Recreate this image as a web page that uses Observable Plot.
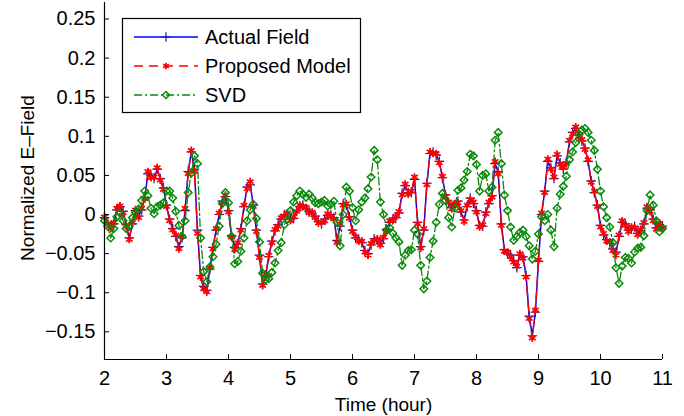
<!DOCTYPE html>
<html>
<head>
<meta charset="utf-8">
<script src="https://cdn.jsdelivr.net/npm/d3@7"></script>
<script src="https://cdn.jsdelivr.net/npm/@observablehq/plot@0.6"></script>
<style>
  html, body { margin: 0; padding: 0; background: #fff; }
  #chart svg { display: block; }
</style>
</head>
<body>
<div id="chart"></div>
<script>
// Sampling of the three series: one value every 0.05 h from 2 h to 11 h.
const tStart = 2;
const tStep = 0.05;

const actualField = [
  -0.004,-0.010,-0.016,-0.012,0.006,0.010,0.004,-0.013,-0.030,-0.012,
  0.005,-0.002,0.006,0.022,0.052,0.050,0.046,0.058,0.046,0.034,
  0.012,-0.006,-0.018,-0.028,-0.041,-0.030,0.005,0.055,0.080,0.058,
  -0.020,-0.078,-0.092,-0.097,-0.070,-0.042,-0.020,0.000,0.017,0.023,
  0.005,-0.027,-0.042,-0.038,-0.018,0.010,0.035,0.038,0.012,-0.020,
  -0.052,-0.089,-0.079,-0.054,-0.034,-0.021,-0.013,-0.006,0.000,0.000,
  -0.006,-0.005,0.005,0.010,0.012,0.007,0.004,0.001,-0.002,-0.009,
  -0.012,-0.006,-0.001,0.000,-0.004,-0.033,-0.015,0.014,0.012,-0.003,
  -0.020,-0.030,-0.032,-0.036,-0.046,-0.050,-0.039,-0.031,-0.033,-0.037,
  -0.031,-0.019,-0.010,-0.006,-0.004,0.002,0.027,0.037,0.028,0.028,
  0.045,-0.010,-0.041,-0.020,0.040,0.078,0.080,0.076,0.068,0.047,
  0.025,0.014,0.009,0.012,0.017,0.003,-0.007,0.010,0.021,0.014,
  0.005,-0.014,-0.015,0.003,0.014,0.024,0.065,0.055,-0.012,-0.045,
  -0.050,-0.052,-0.059,-0.068,-0.052,-0.054,-0.078,-0.130,-0.155,-0.125,
  -0.060,0.000,0.030,0.068,0.060,0.046,0.075,0.066,0.058,0.067,
  0.093,0.105,0.110,0.102,0.094,0.085,0.068,0.043,0.028,0.012,
  -0.014,-0.026,-0.032,-0.037,-0.044,-0.048,-0.028,-0.010,-0.012,-0.020,
  -0.018,-0.015,-0.024,-0.021,-0.012,0.008,0.006,-0.006,-0.017,-0.013,
  -0.015
];

const proposedModel = [
  -0.003,-0.012,-0.018,-0.010,0.008,0.011,0.002,-0.015,-0.032,-0.010,
  0.006,-0.004,0.008,0.020,0.055,0.047,0.048,0.060,0.044,0.032,
  0.010,-0.008,-0.020,-0.026,-0.044,-0.028,0.008,0.052,0.082,0.055,
  -0.024,-0.080,-0.095,-0.099,-0.068,-0.044,-0.018,0.002,0.015,0.025,
  0.003,-0.029,-0.045,-0.036,-0.020,0.012,0.033,0.042,0.010,-0.022,
  -0.055,-0.091,-0.076,-0.052,-0.036,-0.019,-0.015,-0.004,-0.002,0.002,
  -0.008,-0.003,0.004,0.012,0.010,0.009,0.002,0.003,-0.004,-0.011,
  -0.010,-0.008,0.001,-0.002,-0.006,-0.036,-0.012,0.012,0.014,-0.005,
  -0.022,-0.028,-0.034,-0.034,-0.048,-0.052,-0.037,-0.033,-0.031,-0.039,
  -0.029,-0.021,-0.008,-0.008,-0.002,0.004,0.025,0.039,0.026,0.030,
  0.048,-0.012,-0.043,-0.018,0.038,0.080,0.078,0.078,0.066,0.049,
  0.023,0.016,0.007,0.014,0.015,0.005,-0.009,0.012,0.019,0.016,
  0.003,-0.016,-0.013,0.001,0.016,0.022,0.068,0.052,-0.014,-0.047,
  -0.048,-0.054,-0.061,-0.066,-0.050,-0.056,-0.080,-0.133,-0.158,-0.122,
  -0.058,0.002,0.028,0.071,0.058,0.048,0.077,0.064,0.060,0.065,
  0.095,0.103,0.112,0.100,0.096,0.083,0.070,0.041,0.030,0.010,
  -0.016,-0.024,-0.034,-0.035,-0.046,-0.052,-0.026,-0.008,-0.014,-0.022,
  -0.016,-0.017,-0.026,-0.019,-0.010,0.010,0.004,-0.008,-0.019,-0.011,
  -0.017
];

const svdModel = [
  -0.008,-0.015,-0.030,-0.018,-0.003,0.002,-0.008,-0.018,-0.015,-0.004,
  0.003,0.007,0.018,0.030,0.024,0.008,0.001,0.010,0.012,0.015,
  0.030,0.030,0.021,0.004,-0.014,-0.028,-0.008,0.028,0.053,0.075,
  0.065,-0.030,-0.073,-0.086,-0.067,-0.054,-0.038,-0.015,0.014,0.028,
  0.015,-0.028,-0.063,-0.060,-0.047,-0.030,-0.008,0.006,0.013,-0.005,
  -0.035,-0.075,-0.083,-0.082,-0.074,-0.062,-0.046,-0.036,-0.013,-0.006,
  0.005,0.016,0.024,0.030,0.026,0.022,0.026,0.021,0.015,0.014,
  0.016,0.018,0.011,0.013,0.017,-0.010,-0.040,0.000,0.035,0.030,
  0.009,-0.008,0.006,0.016,0.021,0.033,0.048,0.082,0.070,0.016,
  0.000,-0.020,-0.017,-0.024,-0.030,-0.035,-0.065,-0.052,-0.046,-0.045,
  -0.020,-0.025,-0.065,-0.095,-0.085,-0.055,-0.034,-0.010,0.013,0.027,
  0.018,-0.004,-0.016,0.008,0.031,0.034,0.044,0.055,0.077,0.075,
  0.064,0.030,0.050,0.052,0.030,0.035,0.095,0.105,0.065,0.025,
  0.005,-0.016,-0.033,-0.028,-0.023,-0.020,-0.028,-0.040,-0.057,-0.047,
  -0.025,-0.003,-0.008,0.000,-0.020,-0.041,0.008,0.026,0.036,0.049,
  0.070,0.080,0.092,0.103,0.108,0.110,0.105,0.095,0.082,0.058,
  0.030,0.010,-0.004,-0.016,-0.036,-0.068,-0.088,-0.066,-0.055,-0.056,
  -0.062,-0.048,-0.043,-0.042,-0.027,0.005,0.025,0.012,-0.008,-0.022,
  -0.018
];

const xTicks = [2, 3, 4, 5, 6, 7, 8, 9, 10, 11];
const yTicks = [-0.15, -0.1, -0.05, 0, 0.05, 0.1, 0.15, 0.2, 0.25];
const xLabel = "Time (hour)";
const yLabel = "Normalized E\u2013Field";
const seriesNames = ["Actual Field", "Proposed Model", "SVD"];

// Build a tidy table from the arrays above.
const rows = actualField.map((v, i) => ({
  t: tStart + i * tStep,
  actual: v,
  proposed: proposedModel[i],
  svd: svdModel[i]
}));

const blue = "#0000ff";
const red = "#ff0000";
const green = "#0a8a0a";
const font = "'Liberation Sans', Arial, Helvetica, sans-serif";

const width = 684, height = 416;
const margin = {top: 2, right: 22, bottom: 57, left: 104};
const frameW = width - margin.left - margin.right;
const frameH = height - margin.top - margin.bottom;
const yDomain = [-0.1854, 0.2711];

const fmtY = d => d === 0 ? "0" : String(d).replace("-", "\u2212");

const chart = Plot.plot({
  width, height,
  marginTop: margin.top, marginRight: margin.right,
  marginBottom: margin.bottom, marginLeft: margin.left,
  x: {domain: [2, 11]},
  y: {domain: yDomain},
  style: {fontFamily: font, fontSize: "20px", background: "white", color: "black", overflow: "visible"},
  marks: [
    // Actual field: solid blue with plus markers
    Plot.line(rows, {x: "t", y: "actual", stroke: blue, strokeWidth: 1.5}),
    Plot.dot(rows, {x: "t", y: "actual", symbol: "plus", r: 3.2, stroke: "#1a1a9a", strokeWidth: 1.2}),
    // Proposed model: dashed red with asterisk markers
    Plot.line(rows, {x: "t", y: "proposed", stroke: red, strokeWidth: 1.4, strokeDasharray: "9,6"}),
    Plot.dot(rows, {x: "t", y: "proposed", symbol: "asterisk", r: 3.6, stroke: red, strokeWidth: 1.7}),
    // SVD: dash-dot green with open diamonds
    Plot.line(rows, {x: "t", y: "svd", stroke: green, strokeWidth: 1.3, strokeDasharray: "8,3,2,3"}),
    Plot.dot(rows, {x: "t", y: "svd", symbol: "diamond2", r: 3.4, stroke: green, strokeWidth: 1.5}),
    // Axis lines (left and bottom only)
    Plot.ruleX([2], {stroke: "black", strokeWidth: 1.2}),
    Plot.ruleY([yDomain[0]], {stroke: "black", strokeWidth: 1.2}),
    // Inward tick marks
    Plot.tickX(xTicks, {x: d => d, insetTop: frameH - 5, stroke: "black"}),
    Plot.tickY(yTicks, {y: d => d, insetRight: frameW - 5, stroke: "black"}),
    // Tick labels
    Plot.axisX(xTicks, {tickSize: 0, tickPadding: 11, label: null, fontSize: 20}),
    Plot.axisY(yTicks, {tickSize: 0, tickPadding: 9, label: null, tickFormat: fmtY, fontSize: 20}),
    // Axis titles
    Plot.text([xLabel], {text: d => d, frameAnchor: "bottom", dy: 45, lineAnchor: "middle", textAnchor: "middle", fontSize: 19}),
    Plot.text([yLabel], {text: d => d, frameAnchor: "left", dx: -77, dy: -3, rotate: -90, textAnchor: "middle", lineAnchor: "middle", fontSize: 19})
  ]
});

// Legend box in the upper-left corner of the axes
const svg = d3.select(chart);
const lg = svg.append("g")
  .attr("font-family", font).attr("font-size", 20).attr("text-anchor", "start");
lg.append("rect")
  .attr("x", 122.5).attr("y", 18.5).attr("width", 238).attr("height", 94)
  .attr("fill", "white").attr("stroke", "black").attr("stroke-width", 1.2);

const legendItems = [
  {name: seriesNames[0], color: blue, mark: "#1a1a9a", dash: null, symbol: d3.symbolPlus, sw: 1.2},
  {name: seriesNames[1], color: red, mark: red, dash: "9,6", symbol: d3.symbolAsterisk, sw: 1.7},
  {name: seriesNames[2], color: green, mark: green, dash: "8,3,2,3", symbol: d3.symbolDiamond2, sw: 1.5}
];
legendItems.forEach((it, i) => {
  const y = 37 + i * 29;
  lg.append("line")
    .attr("x1", 134).attr("x2", 198).attr("y1", y).attr("y2", y)
    .attr("stroke", it.color).attr("stroke-width", 1.4)
    .attr("stroke-dasharray", it.dash);
  lg.append("path")
    .attr("d", d3.symbol(it.symbol, Math.PI * 10)())
    .attr("transform", `translate(166,${y})`)
    .attr("fill", "none").attr("stroke", it.mark).attr("stroke-width", it.sw);
  lg.append("text")
    .attr("x", 205).attr("y", y).attr("dy", "0.35em")
    .attr("text-anchor", "start")
    .attr("fill", "black")
    .text(it.name);
});

document.getElementById("chart").appendChild(chart);
</script>
</body>
</html>
